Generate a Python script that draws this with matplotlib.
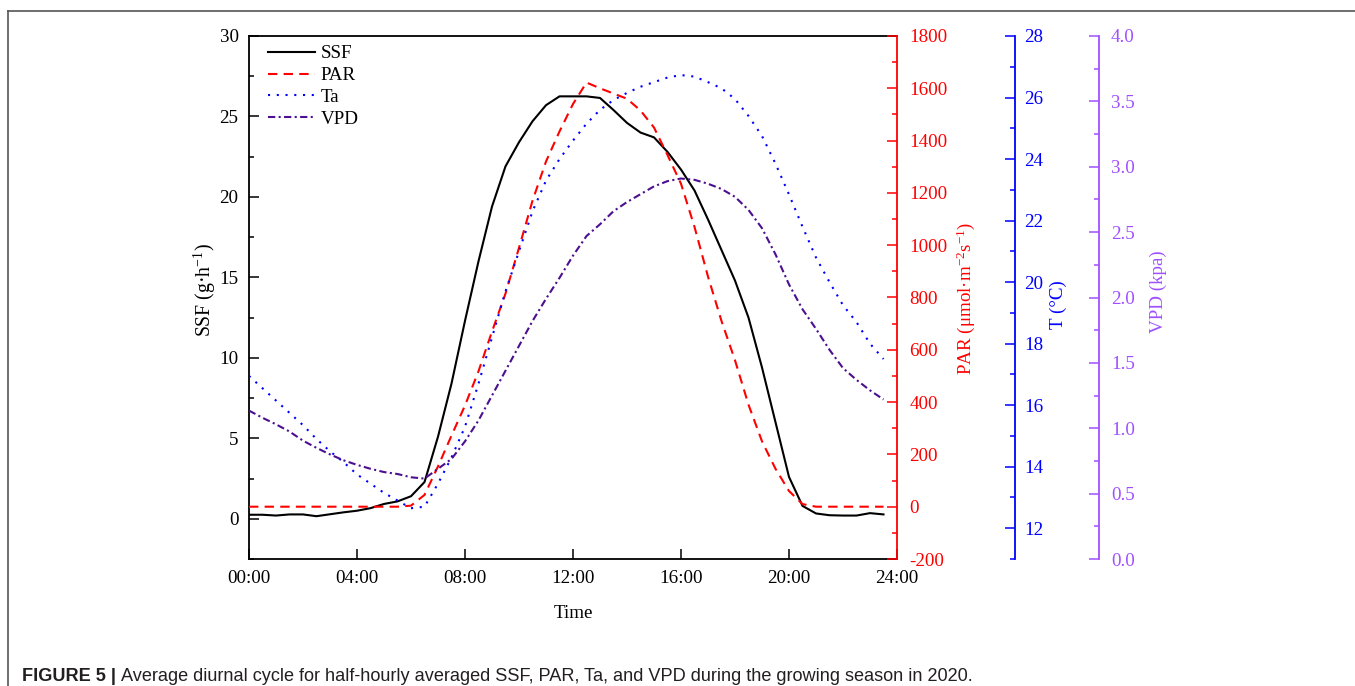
import numpy as np
import matplotlib
matplotlib.use("Agg")
import matplotlib.pyplot as plt
from matplotlib.lines import Line2D
from matplotlib.ticker import MultipleLocator

plt.rcParams['font.family'] = ['Liberation Serif', 'DejaVu Serif']
plt.rcParams['mathtext.fontset'] = 'custom'
plt.rcParams['mathtext.rm'] = 'Liberation Serif'
plt.rcParams['mathtext.it'] = 'Liberation Serif:italic'
plt.rcParams['axes.unicode_minus'] = False

# half-hourly time steps, 00:00 .. 23:30
hours = np.arange(0, 24, 0.5)

ssf = [0.25, 0.25, 0.2, 0.27, 0.27, 0.16, 0.28, 0.4, 0.5, 0.66, 0.92, 1.08,
       1.4, 2.28, 5.1, 8.4, 12.3, 16.0, 19.4, 21.9, 23.4, 24.7, 25.7, 26.25,
       26.25, 26.25, 26.15, 25.4, 24.6, 24.0, 23.7, 22.8, 21.7, 20.4, 18.6, 16.7,
       14.8, 12.5, 9.4, 6.0, 2.6, 0.8, 0.33, 0.22, 0.2, 0.2, 0.35, 0.27]

par = [0, 0, 0, 0, 0, 0, 0, 0, 0, 0, 0, 0,
       4, 45, 154, 272, 387, 518, 670, 815, 990, 1170, 1320, 1435,
       1540, 1622, 1600, 1580, 1560, 1515, 1450, 1345, 1235, 1070, 880, 710,
       560, 390, 250, 145, 60, 10, 0, 0, 0, 0, 0, 0]

ta = [16.95, 16.55, 16.15, 15.75, 15.35, 14.9, 14.5, 14.15, 13.75, 13.45, 13.15, 12.9,
      12.65, 12.7, 13.45, 14.3, 15.3, 16.7, 18.2, 19.7, 21.0, 22.3, 23.3, 24.0,
      24.6, 25.15, 25.6, 25.92, 26.15, 26.35, 26.5, 26.65, 26.73, 26.68, 26.5, 26.3,
      25.95, 25.4, 24.75, 23.85, 22.85, 21.8, 20.8, 20.0, 19.25, 18.7, 18.0, 17.5]

vpd = [1.135, 1.08, 1.03, 0.975, 0.905, 0.85, 0.8, 0.755, 0.72, 0.69, 0.665, 0.65,
       0.625, 0.615, 0.69, 0.765, 0.9, 1.06, 1.25, 1.44, 1.63, 1.82, 1.99, 2.15,
       2.32, 2.47, 2.56, 2.66, 2.73, 2.79, 2.85, 2.89, 2.91, 2.9, 2.87, 2.83,
       2.77, 2.67, 2.53, 2.33, 2.1, 1.91, 1.76, 1.6, 1.46, 1.37, 1.29, 1.22]

xticks = [0, 4, 8, 12, 16, 20, 24]
xticklabels = ['00:00', '04:00', '08:00', '12:00', '16:00', '20:00', '24:00']

W, H = 1355, 686
FS = 13.7
RED = '#ff0000'
BLUE = '#0000ff'
PURPLE_LINE = '#4b0f8f'
PURPLE_AX = '#a050ff'

fig = plt.figure(figsize=(W / 100, H / 100), dpi=100)
ax = fig.add_axes([249 / W, 1 - 559 / H, (897 - 249) / W, (559 - 36) / H])

l1, = ax.plot(hours, ssf, color='black', lw=1.5, label='SSF')
ax.set_xlim(0, 24)
ax.set_ylim(-2.5, 30)
ax.set_xticks(xticks)
ax.set_xticklabels(xticklabels)
ax.yaxis.set_major_locator(MultipleLocator(5))
ax.yaxis.set_minor_locator(MultipleLocator(2.5))
ax.tick_params(axis='both', which='both', direction='in', width=1.1, labelsize=FS)
ax.tick_params(axis='y', which='major', length=7.2, pad=7.5)
ax.tick_params(axis='y', which='minor', length=3.4)
ax.tick_params(axis='x', which='major', length=7.2, pad=8)
ax.spines['right'].set_visible(False)
for s in ['left', 'top', 'bottom']:
    ax.spines[s].set_linewidth(1.3)

ax2 = ax.twinx()
l2, = ax2.plot(hours, par, color=RED, lw=1.5, dashes=(4.5, 3), label='PAR')
ax2.set_ylim(-200, 1800)
ax2.yaxis.set_major_locator(MultipleLocator(200))
ax2.yaxis.set_minor_locator(MultipleLocator(100))

ax3 = ax.twinx()
l3, = ax3.plot(hours, ta, color=BLUE, lw=1.5, dashes=(1, 3.2), label='Ta')
ax3.set_ylim(11, 28)
ax3.yaxis.set_major_locator(MultipleLocator(2))
ax3.yaxis.set_minor_locator(MultipleLocator(1))
ax3.spines['right'].set_position(('axes', (1015 - 249) / 648))

ax4 = ax.twinx()
l4, = ax4.plot(hours, vpd, color=PURPLE_LINE, lw=1.5, dashes=(3.5, 1.6, 1, 1.6), label='VPD')
ax4.set_ylim(0, 4)
ax4.yaxis.set_major_locator(MultipleLocator(0.5))
ax4.yaxis.set_minor_locator(MultipleLocator(0.25))
ax4.yaxis.set_major_formatter(matplotlib.ticker.FormatStrFormatter('%.1f'))
ax4.spines['right'].set_position(('axes', (1099 - 249) / 648))

for a, c, pad in [(ax2, RED, 9), (ax3, BLUE, 6.5), (ax4, PURPLE_AX, 8.5)]:
    for s in ['left', 'top', 'bottom']:
        a.spines[s].set_visible(False)
    a.spines['right'].set_color(c)
    a.spines['right'].set_linewidth(1.3)
    a.tick_params(axis='y', which='both', direction='in', colors=c, width=1.1, labelsize=FS)
    a.tick_params(axis='y', which='major', length=7.2, pad=pad)
    a.tick_params(axis='y', which='minor', length=3.4)

# axis titles
fig.text(205 / W, 1 - 290 / H, 'SSF (g·h$^{-1}$)', rotation=90, ha='center', va='center', fontsize=FS + 0.5)
fig.text(966 / W, 1 - 298 / H, 'PAR (μmol·m$^{-2}$s$^{-1}$)', rotation=90, ha='center', va='center',
         fontsize=FS, color=RED)
fig.text(1058 / W, 1 - 305 / H, 'T (°C)', rotation=90, ha='center', va='center', fontsize=FS, color=BLUE)
fig.text(1158 / W, 1 - 292 / H, 'VPD (kpa)', rotation=90, ha='center', va='center', fontsize=FS,
         color=PURPLE_AX)
fig.text(573 / W, 1 - 613 / H, 'Time', ha='center', va='center', fontsize=FS)

ax.legend(handles=[l1, l2, l3, l4], loc='upper left',
          bbox_to_anchor=((268 - 249) / 648, (559 - 45) / 523),
          frameon=False, fontsize=FS, handlelength=2.45, handletextpad=0.3,
          labelspacing=0.24, borderpad=0, borderaxespad=0)

# outer frame
fig.add_artist(Line2D([8 / W, 8 / W], [0, 1 - 11 / H], color='#555555', lw=1.2))
fig.add_artist(Line2D([8 / W, 1], [1 - 11 / H, 1 - 11 / H], color='#555555', lw=1.2))

# caption
cs = 12.6
t1 = fig.text(22 / W, 1 - 681 / H, 'FIGURE 5 |', family='Liberation Sans', fontweight='bold',
              fontsize=cs, va='baseline', color='#231f20')
fig.canvas.draw()
r = fig.canvas.get_renderer()
b1 = t1.get_window_extent(r)
t2 = fig.text((b1.x1 + 5) / W, 1 - 681 / H,
              'Average diurnal cycle for half-hourly averaged SSF, PAR, Ta, and VPD during the growing season in 2020.',
              family='Liberation Sans', fontsize=cs, va='baseline', color='#231f20')
b2 = t2.get_window_extent(r)
scale = (969 - 22) / (b2.x1 - b1.x0)
cs = cs * scale
t1.set_fontsize(cs)
t2.set_fontsize(cs)
b1 = t1.get_window_extent(r)
t2.set_x((b1.x1 + 5) / W)

fig.savefig('out.png', dpi=100)
